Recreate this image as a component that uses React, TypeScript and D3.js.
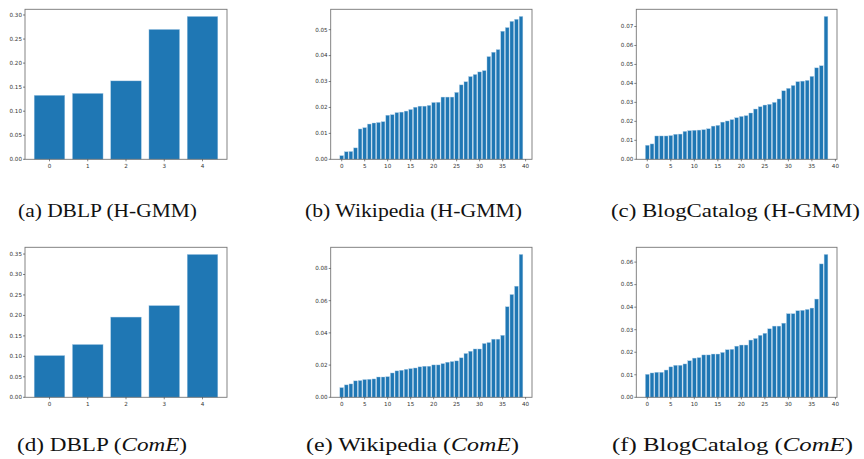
import React from "react";
import * as d3 from "d3";

const dblpHGMM = [0.133, 0.137, 0.163, 0.270, 0.297];
const wikiHGMM = [0.0014, 0.0029, 0.003, 0.0044, 0.0117, 0.0122, 0.0136, 0.014, 0.0142, 0.0145,
  0.017, 0.0172, 0.018, 0.0182, 0.0186, 0.0192, 0.0201, 0.0205, 0.0205, 0.0208,
  0.0219, 0.022, 0.024, 0.024, 0.024, 0.0258, 0.0287, 0.0299, 0.0319, 0.0327,
  0.0337, 0.0342, 0.0396, 0.0413, 0.0423, 0.0494, 0.0508, 0.0532, 0.054, 0.0551];
const blogHGMM = [0.0074, 0.0081, 0.0123, 0.0123, 0.0123, 0.0125, 0.0132, 0.0133, 0.0147, 0.0151,
  0.0153, 0.0154, 0.0156, 0.0161, 0.0175, 0.0179, 0.0196, 0.0202, 0.0209, 0.0219,
  0.0226, 0.023, 0.0244, 0.0265, 0.0277, 0.0286, 0.029, 0.030, 0.0318, 0.0361,
  0.0374, 0.0389, 0.0409, 0.0412, 0.0416, 0.0437, 0.0482, 0.0493, 0.0753];
const dblpComE = [0.102, 0.129, 0.196, 0.224, 0.349];
const wikiComE = [0.006, 0.0077, 0.0083, 0.0102, 0.0104, 0.011, 0.0112, 0.0114, 0.0126, 0.0126,
  0.0128, 0.0151, 0.0164, 0.0168, 0.0174, 0.0178, 0.0182, 0.0189, 0.0193, 0.0193,
  0.0201, 0.0201, 0.0209, 0.0218, 0.0222, 0.0226, 0.0245, 0.0272, 0.0286, 0.030,
  0.030, 0.0334, 0.034, 0.0361, 0.0361, 0.0385, 0.0562, 0.0638, 0.069, 0.0887];
const blogComE = [0.0102, 0.0108, 0.0111, 0.0111, 0.0121, 0.0135, 0.0142, 0.0142, 0.0148, 0.0162,
  0.0174, 0.0176, 0.0188, 0.0188, 0.0192, 0.0192, 0.0199, 0.0211, 0.0213, 0.0227,
  0.0232, 0.0232, 0.0254, 0.0261, 0.0275, 0.0284, 0.0304, 0.0316, 0.0316, 0.0329,
  0.0371, 0.0371, 0.0384, 0.0386, 0.039, 0.0396, 0.0436, 0.0592, 0.0634];

const dblpXTicks = [0, 1, 2, 3, 4];
const longXTicks = [0, 5, 10, 15, 20, 25, 30, 35, 40];
const ticksA = [0, 0.05, 0.1, 0.15, 0.2, 0.25, 0.3];
const ticksB = [0, 0.01, 0.02, 0.03, 0.04, 0.05];
const ticksC = [0, 0.01, 0.02, 0.03, 0.04, 0.05, 0.06, 0.07];
const ticksD = [0, 0.05, 0.1, 0.15, 0.2, 0.25, 0.3, 0.35];
const ticksE = [0, 0.02, 0.04, 0.06, 0.08];
const ticksF = [0, 0.01, 0.02, 0.03, 0.04, 0.05, 0.06];

const captionLabels = [
  ["(a) DBLP (", "H-GMM", ")", false],
  ["(b) Wikipedia (", "H-GMM", ")", false],
  ["(c) BlogCatalog (", "H-GMM", ")", false],
  ["(d) DBLP (", "ComE", ")", true],
  ["(e) Wikipedia (", "ComE", ")", true],
  ["(f) BlogCatalog (", "ComE", ")", true],
] as const;

const cols = [[25, 227], [330.7, 532], [636.3, 837]];
const rows = [[9.3, 159.3], [247.3, 397.3]];

const panels = [
  { data: dblpHGMM, xt: dblpXTicks, yt: ticksA, c: 0, r: 0, cap: { x: 18, w: 179 } },
  { data: wikiHGMM, xt: longXTicks, yt: ticksB, c: 1, r: 0, cap: { x: 305, w: 217 } },
  { data: blogHGMM, xt: longXTicks, yt: ticksC, c: 2, r: 0, cap: { x: 611, w: 249 } },
  { data: dblpComE, xt: dblpXTicks, yt: ticksD, c: 0, r: 1, cap: { x: 17, w: 170 } },
  { data: wikiComE, xt: longXTicks, yt: ticksE, c: 1, r: 1, cap: { x: 306, w: 213 } },
  { data: blogComE, xt: longXTicks, yt: ticksF, c: 2, r: 1, cap: { x: 612, w: 241 } },
];

const capBaselines = [217, 451];

function Panel({ p, i }: { p: any; i: number }) {
  const [x0, x1] = cols[p.c];
  const [y0, y1] = rows[p.r];
  const n = p.data.length;
  const lo = -0.4, hi = n - 1 + 0.4;
  const m = (hi - lo) * 0.05;
  const x = d3.scaleLinear().domain([lo - m, hi + m]).range([x0, x1]);
  const ymax = (d3.max(p.data as number[]) as number) * 1.05;
  const y = d3.scaleLinear().domain([0, ymax]).range([y1, y0]);
  const fmt = d3.format(".2f");
  const lab = captionLabels[i];
  const tickColor = "#333";
  return (
    <g>
      {(p.data as number[]).map((v, k) => (
        <rect key={k} x={x(k - 0.4)} y={y(v)} width={x(k + 0.4) - x(k - 0.4)} height={y(0) - y(v)}
          fill="#1f77b4" stroke="#a9cbe6" strokeWidth={0.4} />
      ))}
      <rect x={x0} y={y0} width={x1 - x0} height={y1 - y0} fill="none" stroke="#777" strokeWidth={0.9} />
      {(p.yt as number[]).map((t) => (
        <g key={"y" + t}>
          <line x1={x0 - 2} x2={x0} y1={y(t)} y2={y(t)} stroke={tickColor} strokeWidth={0.6} />
          <text x={x0 - 3} y={y(t)} dy="0.33em" textAnchor="end" fontSize={5.6}
            fontFamily="DejaVu Sans" fill={tickColor}>{fmt(t)}</text>
        </g>
      ))}
      {(p.xt as number[]).map((t) => (
        <g key={"x" + t}>
          <line x1={x(t)} x2={x(t)} y1={y1} y2={y1 + 2} stroke={tickColor} strokeWidth={0.6} />
          <text x={x(t)} y={y1 + 8.5} textAnchor="middle" fontSize={5.6}
            fontFamily="DejaVu Sans" fill={tickColor}>{t}</text>
        </g>
      ))}
      <text x={p.cap.x} y={capBaselines[p.r]} fontSize={18} fontFamily="Liberation Serif"
        fill="#111" textLength={p.cap.w} lengthAdjust="spacingAndGlyphs">
        {lab[0]}
        <tspan fontStyle={lab[3] ? "italic" : "normal"}>{lab[1]}</tspan>
        {lab[2]}
      </text>
    </g>
  );
}

export default function App() {
  return (
    <svg width={864} height={459} style={{ position: "absolute", left: 0, top: 0, background: "#fff" }}>
      <rect width={864} height={459} fill="#fff" />
      {panels.map((p, i) => <Panel key={i} p={p} i={i} />)}
    </svg>
  );
}
